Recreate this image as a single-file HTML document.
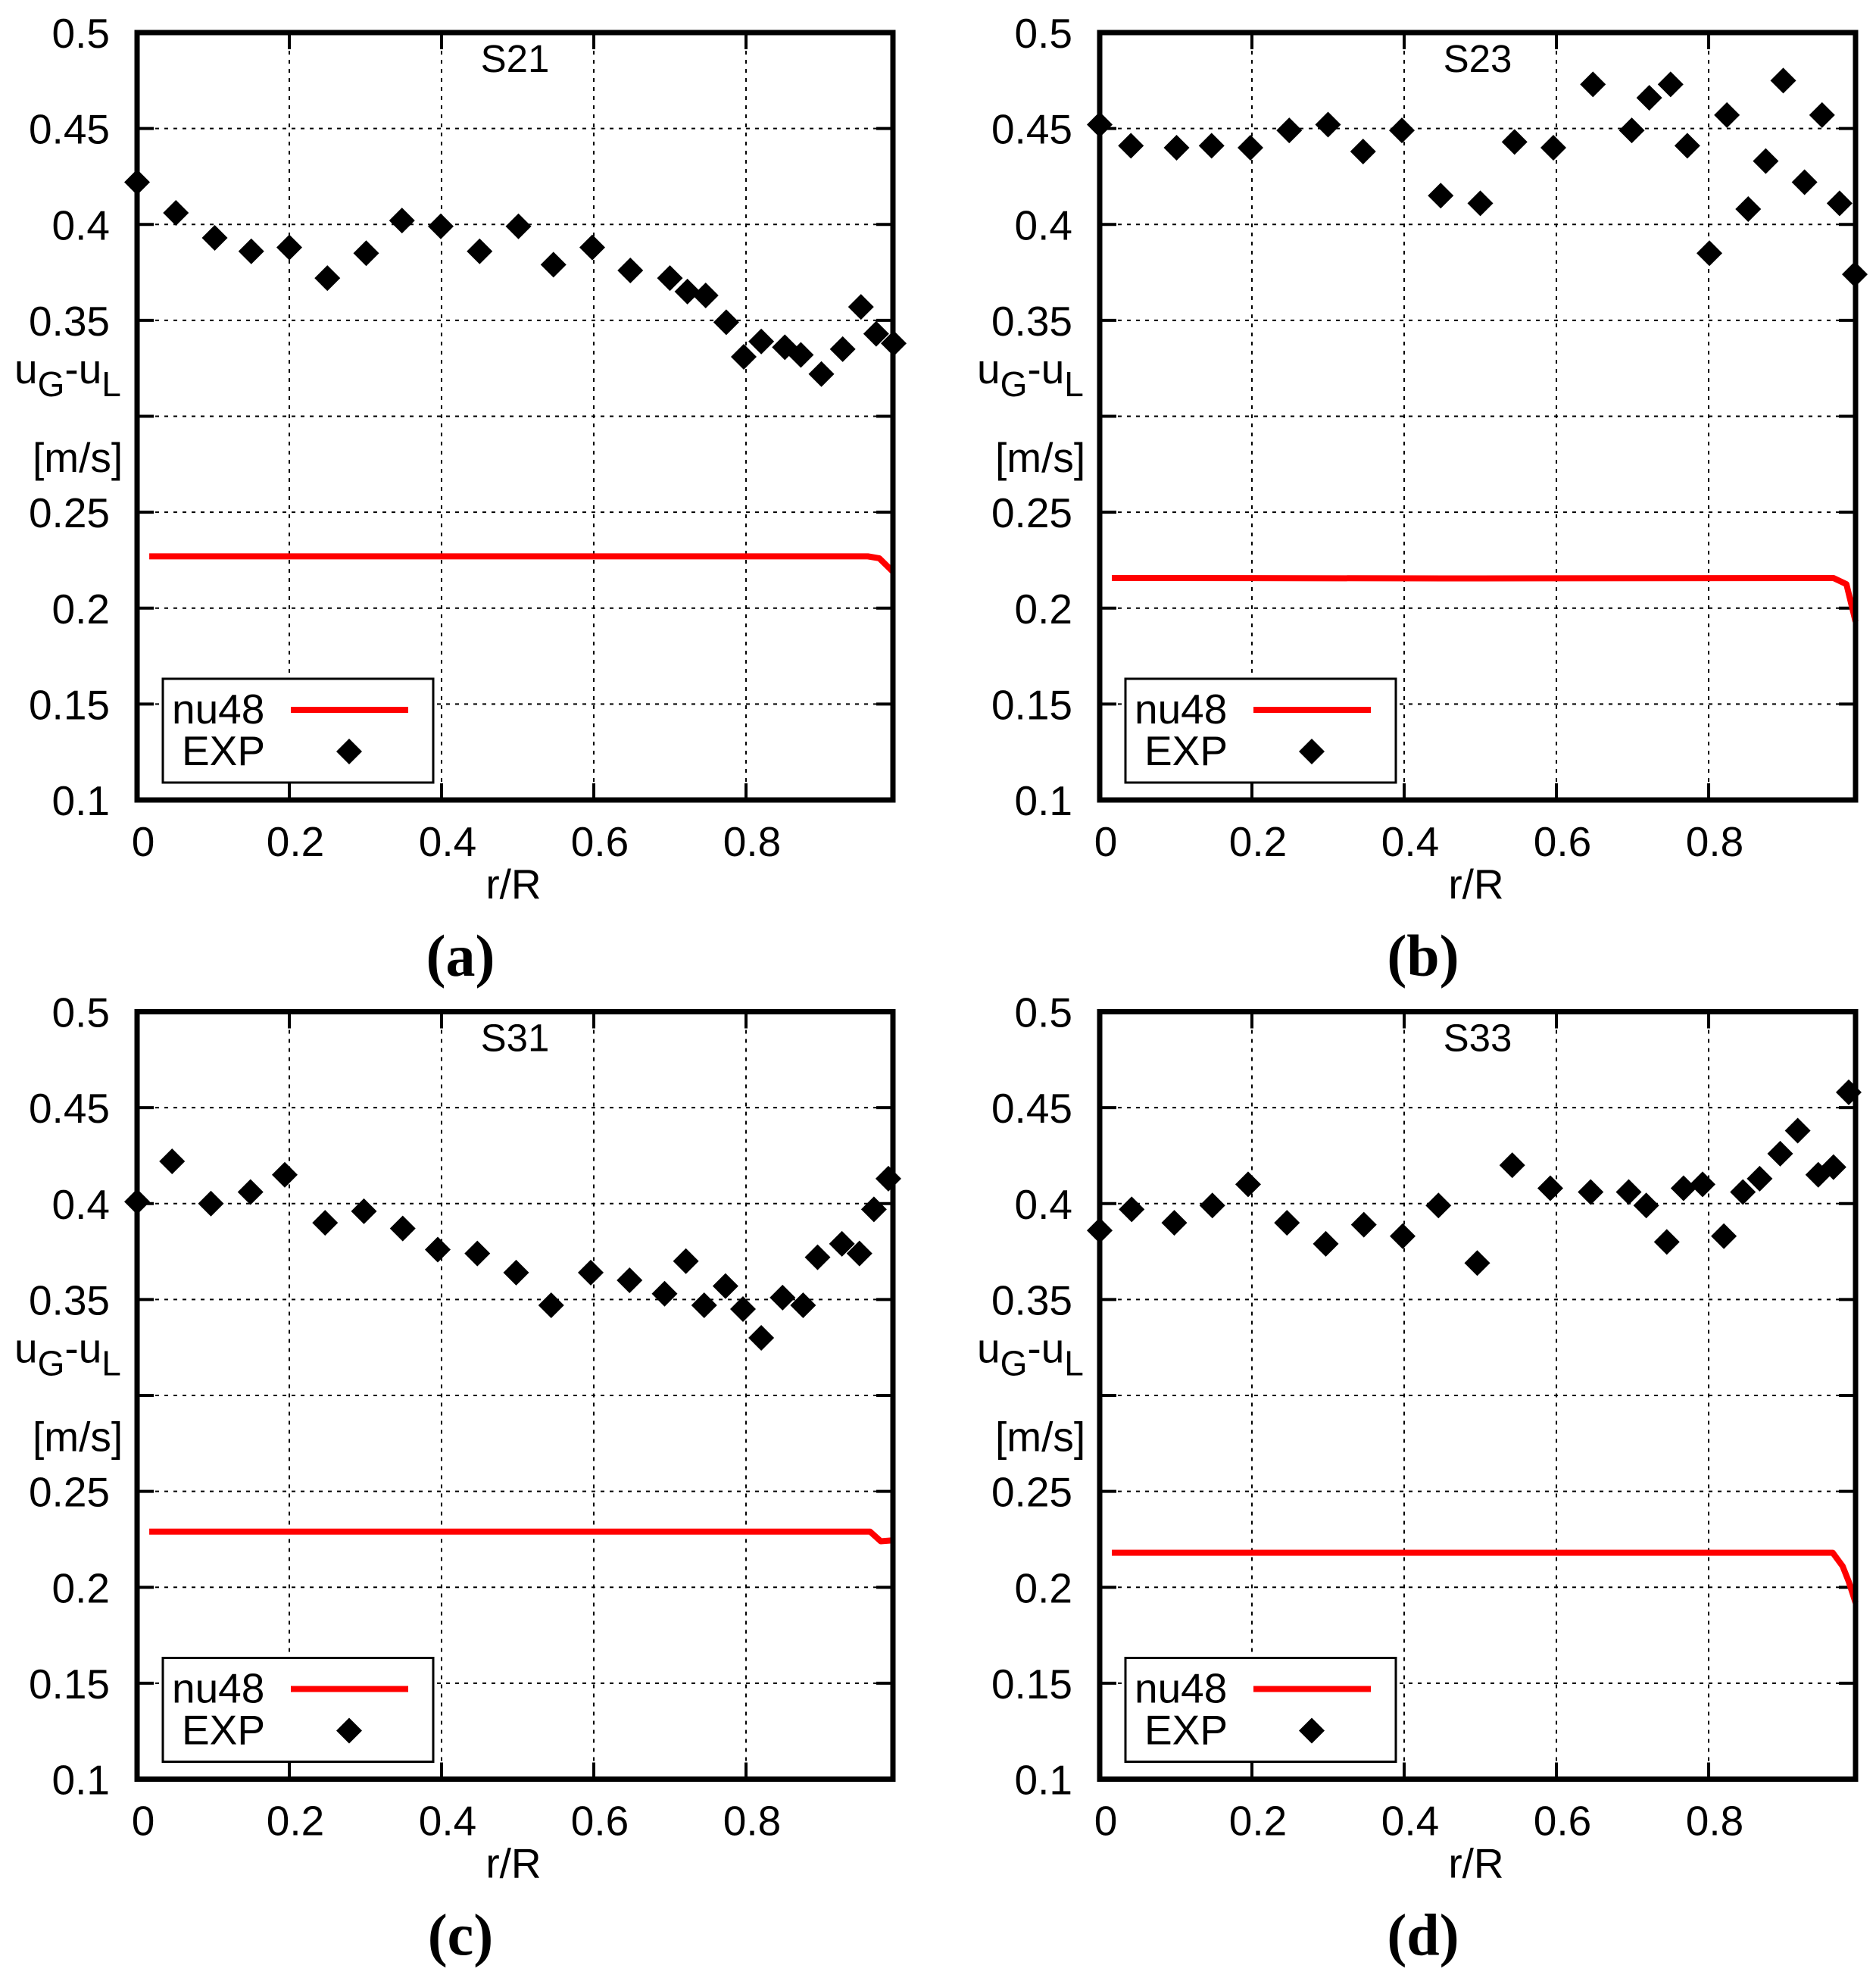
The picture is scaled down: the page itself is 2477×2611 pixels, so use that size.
<!DOCTYPE html>
<html><head><meta charset="utf-8"><style>
html,body{margin:0;padding:0;background:#fff;}
svg{display:block;font-family:"Liberation Sans",sans-serif;}
</style></head><body>
<svg id="fig" xmlns="http://www.w3.org/2000/svg" width="2477" height="2611" viewBox="0 0 2477 2611"></svg>
<script>
// ---- data ----
const panelIds = ["a","b","c","d"];
const panelTitles = ["S21","S23","S31","S33"];
const xTicks = [0,0.2,0.4,0.6,0.8];
const xTickLabels = ["0","0.2","0.4","0.6","0.8"];
const yTicks = [0.1,0.15,0.2,0.25,0.3,0.35,0.4,0.45,0.5];
const yTickLabels = ["0.1","0.15","0.2","0.25","","0.35","0.4","0.45","0.5"];

const expA_r = [0,0.051,0.102,0.150,0.2,0.25,0.301,0.348,0.399,0.45,0.501,0.547,0.598,0.648,0.7,0.723,0.747,0.774,0.797,0.82,0.851,0.872,0.899,0.927,0.951,0.971,0.994];
const expA_v = [0.422,0.406,0.393,0.386,0.388,0.372,0.385,0.402,0.399,0.386,0.399,0.379,0.388,0.376,0.372,0.365,0.363,0.349,0.331,0.339,0.336,0.332,0.322,0.335,0.357,0.343,0.338];
const expB_r = [0,0.041,0.101,0.147,0.198,0.249,0.300,0.346,0.397,0.448,0.500,0.545,0.596,0.648,0.699,0.722,0.750,0.772,0.801,0.824,0.852,0.875,0.898,0.926,0.949,0.972,0.992];
const expB_v = [0.452,0.441,0.440,0.441,0.440,0.449,0.452,0.438,0.449,0.415,0.411,0.443,0.440,0.473,0.449,0.466,0.473,0.441,0.385,0.457,0.408,0.433,0.475,0.422,0.457,0.411,0.374];
const expC_r = [0,0.046,0.097,0.149,0.194,0.247,0.298,0.349,0.395,0.447,0.498,0.544,0.596,0.647,0.693,0.721,0.745,0.773,0.796,0.820,0.848,0.875,0.894,0.926,0.949,0.968,0.987];
const expC_v = [0.401,0.422,0.400,0.406,0.415,0.390,0.396,0.387,0.376,0.374,0.364,0.347,0.364,0.360,0.353,0.370,0.347,0.357,0.345,0.330,0.351,0.347,0.372,0.379,0.374,0.397,0.413];
const expD_r = [0,0.042,0.098,0.148,0.195,0.246,0.297,0.347,0.398,0.445,0.496,0.542,0.592,0.645,0.695,0.718,0.745,0.767,0.792,0.820,0.845,0.867,0.894,0.917,0.944,0.964,0.984];
const expD_v = [0.386,0.397,0.390,0.399,0.410,0.390,0.379,0.389,0.383,0.399,0.369,0.420,0.408,0.406,0.406,0.399,0.380,0.408,0.410,0.383,0.406,0.413,0.426,0.438,0.415,0.419,0.458];

const simA_r = [0.016,0.45,0.96,0.975,0.993];
const simA_v = [0.227,0.227,0.227,0.226,0.219];
const simB_r = [0.016,0.5,0.964,0.981,0.993];
const simB_v = [0.2157,0.2155,0.2157,0.2125,0.193];
const simC_r = [0.016,0.5,0.963,0.977,0.993];
const simC_v = [0.229,0.229,0.229,0.224,0.2245];
const simD_r = [0.016,0.5,0.963,0.976,0.984,0.993];
const simD_v = [0.218,0.218,0.218,0.211,0.203,0.192];

const expR = [expA_r,expB_r,expC_r,expD_r];
const expV = [expA_v,expB_v,expC_v,expD_v];
const simR = [simA_r,simB_r,simC_r,simD_r];
const simV = [simA_v,simB_v,simC_v,simD_v];

// ---- layout ----
const NS = "http://www.w3.org/2000/svg";
const svg = document.getElementById("fig");
const PW = 998, PH = 1013, XMAX = 0.993, YMIN = 0.1, YMAX = 0.5;
const origins = [[181,43],[1452,43],[181,1335.5],[1452,1335.5]];
function mk(tag, attrs, parent){const e=document.createElementNS(NS,tag);for(const k in attrs)e.setAttribute(k,attrs[k]);(parent||svg).appendChild(e);return e;}

panelIds.forEach((pid,i)=>{
  const [L,T] = origins[i];
  const xs = v => L + v/XMAX*PW;
  const ys = v => T + (YMAX - v)/(YMAX-YMIN)*PH;
  const g = mk("g",{});
  
  
  xTicks.forEach((t,k)=>{
    if(t>0){
      const gl = mk("line",{x1:xs(t),x2:xs(t),y1:T,y2:T+PH,stroke:"#000","stroke-width":2,"stroke-dasharray":"5,7"},g);
      
      
    }
    mk("line",{x1:xs(t),x2:xs(t),y1:T+PH,y2:T+PH-22,stroke:"#000","stroke-width":4},g);
    mk("line",{x1:xs(t),x2:xs(t),y1:T,y2:T+22,stroke:"#000","stroke-width":4},g);
    const tl = mk("text",{x:xs(t)+8,y:T+PH+74,"font-size":55,"text-anchor":"middle"},g);
    tl.textContent = xTickLabels[k];
    
    
  });
  yTicks.forEach((t,k)=>{
    if(t>YMIN && t<YMAX){
      const gl = mk("line",{x1:L,x2:L+PW,y1:ys(t),y2:ys(t),stroke:"#000","stroke-width":2,"stroke-dasharray":"5,7"},g);
      
      
    }
    mk("line",{x1:L,x2:L+22,y1:ys(t),y2:ys(t),stroke:"#000","stroke-width":4},g);
    mk("line",{x1:L+PW,x2:L+PW-22,y1:ys(t),y2:ys(t),stroke:"#000","stroke-width":4},g);
    if(yTickLabels[k]){
      const tl = mk("text",{x:L-36,y:ys(t)+20,"font-size":55,"text-anchor":"end"},g);
      tl.textContent = yTickLabels[k];
      
      
    }
  });
  const pts = simR[i].map((r,k)=>xs(r)+","+ys(simV[i][k])).join(" ");
  const pl = mk("polyline",{points:pts,fill:"none",stroke:"#ff0000","stroke-width":8,"stroke-linejoin":"round"},g);
  
  
  expR[i].forEach((r,k)=>{
    const cx = xs(r), cy = ys(expV[i][k]), h = 17;
    const d = mk("polygon",{points:`${cx},${cy-h} ${cx+h},${cy} ${cx},${cy+h} ${cx-h},${cy}`,fill:"#000"},g);
    
    
  });
  const fr = mk("rect",{x:L,y:T,width:PW,height:PH,fill:"none",stroke:"#000","stroke-width":7},g);
  
  
  const tt = mk("text",{x:L+499,y:T+52,"font-size":51,"text-anchor":"middle"},g);
  tt.textContent = panelTitles[i];
  
  
  const lg = mk("g",{},g);
  
  
  mk("rect",{x:L+34,y:T+853,width:357,height:137,fill:"#fff",stroke:"#000","stroke-width":3},lg);
  const l1 = mk("text",{x:L+46,y:T+912,"font-size":55},lg); l1.textContent="nu48";
  
  
  mk("line",{x1:L+203,x2:L+358,y1:T+894,y2:T+894,stroke:"#ff0000","stroke-width":8},lg);
  const l2 = mk("text",{x:L+59,y:T+967,"font-size":55},lg); l2.textContent="EXP";
  
  
  const lx=L+280, ly=T+949, h=17;
  mk("polygon",{points:`${lx},${ly-h} ${lx+h},${ly} ${lx},${ly+h} ${lx-h},${ly}`,fill:"#000"},lg);
  const ya = mk("text",{x:L-162,y:T+463,"font-size":55},g);
  ya.innerHTML = 'u<tspan font-size="46" dy="17">G</tspan><tspan dy="-17">-u</tspan><tspan font-size="46" dy="17">L</tspan>';
  
  
  const yu = mk("text",{x:L-138,y:T+580,"font-size":55},g);
  yu.textContent = "[m/s]";
  
  
  const xa = mk("text",{x:L+497,y:T+1143,"font-size":55,"text-anchor":"middle"},g);
  xa.textContent = "r/R";
  
  
  const pl2 = mk("text",{x:L+427,y:T+1245,"font-size":78,"font-weight":"bold","text-anchor":"middle","font-family":"Liberation Serif, serif"},g);
  pl2.textContent = "("+pid+")";
  
  
});
</script>
</body></html>
